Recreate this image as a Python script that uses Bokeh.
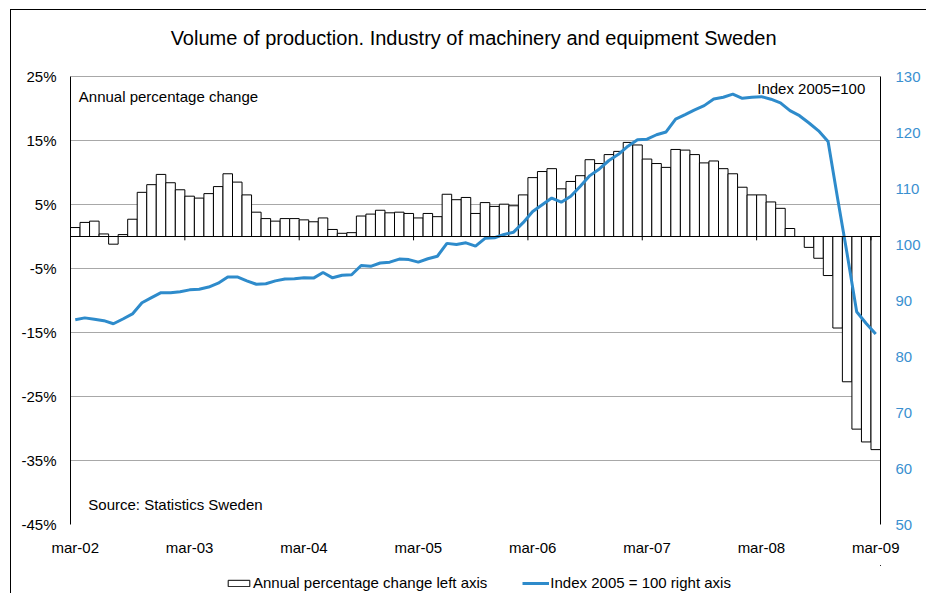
from bokeh.plotting import figure
from bokeh.layouts import column
from bokeh.models import (Range1d, LinearAxis, FixedTicker, PrintfTickFormatter, Span,
                          Label, Legend, LegendItem, ColumnDataSource)
from bokeh.embed import file_html
from bokeh.resources import INLINE

# ---------------- data ----------------
tick_labels = ["mar-02", "mar-03", "mar-04", "mar-05", "mar-06", "mar-07", "mar-08", "mar-09"]
pct_ticks = [-45, -35, -25, -15, -5, 5, 15, 25]
idx_ticks = [50, 60, 70, 80, 90, 100, 110, 120, 130]

annual_change = [
    1.4, 2.2, 2.4, 0.4, -1.2, 0.3, 2.7, 6.9, 8.1, 9.7, 8.4, 7.3,
    6.3, 6.0, 6.7, 7.8, 9.8, 8.5, 6.5, 3.8, 2.8, 2.4, 2.8, 2.8,
    2.6, 2.3, 2.9, 1.1, 0.5, 0.6, 3.2, 3.5, 4.1, 3.7, 3.8, 3.6,
    2.9, 3.6, 3.1, 6.6, 5.75, 6.1, 3.6, 5.3, 4.7, 5.05, 4.8, 6.5,
    9.2, 10.15, 10.6, 7.45, 8.6, 9.5, 12.0, 11.4, 12.8, 13.3, 14.7, 14.3,
    12.1, 11.4, 10.8, 13.6, 13.5, 12.8, 11.5, 11.8, 10.6, 9.8, 7.7, 6.5,
    6.5, 5.4, 4.4, 1.25, 0.0, -1.7, -3.4, -6.1, -14.3, -22.7, -30.1, -32.1,
    -33.3,
]
index_2005 = [
    86.55, 86.9, 86.65, 86.4, 85.85, 86.7, 87.6, 89.6, 90.5, 91.4, 91.4, 91.55,
    91.9, 92.0, 92.4, 93.1, 94.2, 94.2, 93.5, 92.9, 93.0, 93.5, 93.85, 93.9,
    94.05, 94.0, 95.0, 94.05, 94.5, 94.6, 96.25, 96.1, 96.7, 96.85, 97.4, 97.3,
    96.85, 97.45, 97.9, 100.2, 100.0, 100.3, 99.7, 101.1, 101.2, 101.8, 102.2, 103.9,
    105.9, 107.1, 108.3, 107.55, 108.6, 110.4, 112.3, 113.5, 115.0, 116.1, 117.55, 118.7,
    118.8, 119.6, 120.1, 122.4, 123.2, 124.05, 124.8, 126.0, 126.3, 126.85, 126.1, 126.3,
    126.4, 125.95, 125.3, 123.9, 123.0, 121.7, 120.3, 118.4, 108.2, 98.3, 88.0, 85.9,
    84.0,
]

months = list(range(len(annual_change)))
label_pos = months[::12]
src = ColumnDataSource(dict(x=months, pct=annual_change, idx=index_2005))

FONT = "Liberation Sans"
BLUE = "#2E8BCB"
LABEL_BLUE = "#3A90D0"

# Drawing area reaches up to the canvas top (room for the title); axes are bounded
# to the chart's value span (6.4 px per percentage point, 5.6 px per index point).
PCT_LO, PCT_HI = -45, 25
IDX_LO, IDX_HI = 50, 130
pct_range = Range1d(PCT_LO, PCT_HI + 66 / 6.4)
idx_range = Range1d(IDX_LO, IDX_HI + 66 / 5.6)

p = figure(width=915, height=555, output_backend="svg", toolbar_location=None,
           x_range=Range1d(-0.5, len(months) - 0.5), y_range=pct_range,
           min_border_left=59, min_border_right=46, min_border_top=0, min_border_bottom=41)
p.outline_line_color = None
p.background_fill_color = "white"
p.border_fill_color = "white"

p.extra_y_ranges = {"idx": idx_range}

# left axis
yax = p.yaxis[0]
yax.ticker = FixedTicker(ticks=pct_ticks)
yax.bounds = (PCT_LO, PCT_HI)
yax.formatter = PrintfTickFormatter(format="%d%%")
yax.axis_line_color = "black"
yax.axis_line_width = 1
yax.major_tick_line_color = None
yax.minor_tick_line_color = None
yax.major_tick_out = 0
yax.major_tick_in = 0
yax.major_label_standoff = 14
yax.major_label_text_font = FONT
yax.major_label_text_font_size = "15px"
yax.major_label_text_color = "black"

# x axis
xax = p.xaxis[0]
xax.ticker = FixedTicker(ticks=label_pos)
xax.major_label_overrides = {pos: lab for pos, lab in zip(label_pos, tick_labels)}
xax.axis_line_color = None
xax.major_tick_line_color = None
xax.minor_tick_line_color = None
xax.major_tick_out = 0
xax.major_tick_in = 0
xax.major_label_standoff = 14
xax.major_label_text_font = FONT
xax.major_label_text_font_size = "15px"
xax.major_label_text_color = "black"

# right axis
rax = LinearAxis(y_range_name="idx", ticker=FixedTicker(ticks=idx_ticks), bounds=(IDX_LO, IDX_HI))
rax.axis_line_color = "black"
rax.axis_line_width = 1
rax.major_tick_line_color = None
rax.minor_tick_line_color = None
rax.major_tick_out = 0
rax.major_tick_in = 0
rax.major_label_standoff = 15
rax.major_label_text_font = FONT
rax.major_label_text_font_size = "15px"
rax.major_label_text_color = LABEL_BLUE
p.add_layout(rax, "right")

p.xgrid.visible = False
p.ygrid.grid_line_color = "#a8a8a8"
p.ygrid.grid_line_width = 1

bars = p.vbar(x="x", top="pct", bottom=0, width=1, fill_color="white",
              line_color="black", line_width=1, source=src)

p.add_layout(Span(location=0, dimension="width", line_color="black", line_width=1.2))
bounds = [pos - 0.5 for pos in label_pos[1:]]
p.segment(x0=bounds, x1=bounds, y0=[0] * len(bounds), y1=[-0.6] * len(bounds),
          line_color="black", line_width=1)

line = p.line(x="x", y="idx", y_range_name="idx", line_color=BLUE, line_width=3, source=src)

# title
p.add_layout(Label(x=41.8, y=PCT_HI + 39 / 6.4,
                   text="Volume of production. Industry of machinery and equipment Sweden",
                   text_baseline="middle", text_align="center",
                   text_font=FONT, text_font_size="20px", text_color="black"))

p.add_layout(Label(x=0.37, y=21.95, text="Annual percentage change", text_baseline="middle",
                   text_font=FONT, text_font_size="15px", text_color="black"))
p.add_layout(Label(x=82.9, y=23.2, text="Index 2005=100", text_baseline="middle", text_align="right",
                   text_font=FONT, text_font_size="15px", text_color="black"))
p.add_layout(Label(x=1.37, y=-41.9, text="Source: Statistics Sweden", text_baseline="middle",
                   text_font=FONT, text_font_size="15px", text_color="black"))

# ---- legend strip underneath: same series, viewed through a window that shows no data ----
leg = figure(width=915, height=28, output_backend="svg", toolbar_location=None,
             x_range=Range1d(-1000, -999), y_range=Range1d(-1000, -999),
             x_axis_location=None, y_axis_location=None,
             min_border_left=0, min_border_right=0, min_border_top=0, min_border_bottom=0)
leg.outline_line_color = None
leg.xgrid.visible = False
leg.ygrid.visible = False
leg.background_fill_color = "white"
leg.border_fill_color = "white"
bar_key = leg.vbar(x="x", top="pct", bottom=0, width=1, fill_color="white",
                   line_color="black", line_width=1, source=src)
line_key = leg.line(x="x", y="idx", line_color=BLUE, line_width=3, source=src)

legend = Legend(items=[LegendItem(label="Annual percentage change left axis", renderers=[bar_key]),
                       LegendItem(label="Index 2005 = 100 right axis", renderers=[line_key])],
                location=(155, 2), orientation="horizontal")
legend.padding = 0
legend.margin = 0
legend.spacing = 35
legend.label_standoff = 1
legend.glyph_width = 27
legend.glyph_height = 8
legend.label_text_font = FONT
legend.label_text_font_size = "15px"
legend.label_text_color = "black"
legend.border_line_color = None
legend.background_fill_alpha = 0
leg.add_layout(legend)

layout = column(p, leg, spacing=0)
layout.styles = {"border-left": "1px solid black", "border-top": "1px solid black",
                 "margin-left": "10px", "margin-top": "9px"}

open("out.html", "w").write(file_html(layout, INLINE))
